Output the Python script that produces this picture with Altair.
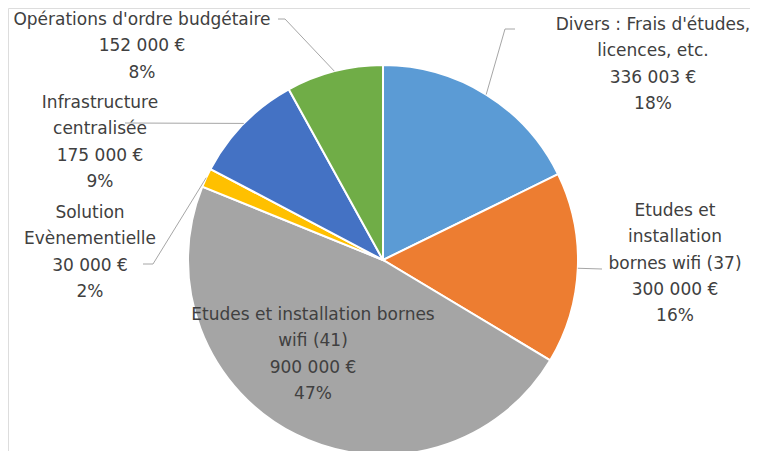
import math
import altair as alt
import pandas as pd

# ---- data ----
categories = [
    "Divers : Frais d'études, licences, etc.",
    "Etudes et installation bornes wifi (37)",
    "Etudes et installation bornes wifi (41)",
    "Solution Evènementielle",
    "Infrastructure centralisée",
    "Opérations d'ordre budgétaire",
]
values = [336003, 300000, 900000, 30000, 175000, 152000]
percents = [18, 16, 47, 2, 9, 8]
label_lines = [
    ["Divers : Frais d'études,", "licences, etc."],
    ["Etudes et", "installation", "bornes wifi (37)"],
    ["Etudes et installation bornes", "wifi (41)"],
    ["Solution", "Evènementielle"],
    ["Infrastructure", "centralisée"],
    ["Opérations d'ordre budgétaire"],
]
colors = ["#5B9BD5", "#ED7D31", "#A5A5A5", "#FFC000", "#4472C4", "#70AD47"]

# ---- layout (chart pixel space) ----
W, H = 742, 443
CX, CY, R = 375, 252, 195
LH = 26.3
label_pos = [(645, 17), (667, 203), (305, 307), (82, 205), (92, 95), (134, 12)]
# leader-line waypoints after the slice edge point (None = no leader)
leader_pts = [
    [(497, 21), (507, 21)],
    [(594, 261)],
    None,
    [(145, 256), (135, 256)],
    [(117, 115)],
    [(277, 11), (270, 11)],
]

total = sum(values)


def fmt_amount(v):
    return f"{v:,}".replace(",", " ") + " €"


pie_df = pd.DataFrame({"cat": categories, "value": values, "idx": range(len(values))})

text_rows = []
line_rows = []
cum = 0
for i, (c, v) in enumerate(zip(categories, values)):
    lines = label_lines[i] + [fmt_amount(v), f"{percents[i]}%"]
    x0, y0 = label_pos[i]
    for j, t in enumerate(lines):
        text_rows.append({"t": t, "x": x0, "y": y0 + j * LH})
    mid = (cum + v / 2) / total * 2 * math.pi
    cum += v
    if leader_pts[i]:
        pts = [(CX + R * math.sin(mid), CY - R * math.cos(mid))] + leader_pts[i]
        for k, (px, py) in enumerate(pts):
            line_rows.append({"g": i, "k": k, "x": px, "y": py})

text_df = pd.DataFrame(text_rows)
line_df = pd.DataFrame(line_rows)

xs = alt.Scale(domain=[0, W], range=[0, W])
ys = alt.Scale(domain=[0, H], range=[0, H])

pie = alt.Chart(pie_df).mark_arc(radius=R, stroke="white", strokeWidth=2).encode(
    theta=alt.Theta("value:Q", stack=True),
    order=alt.Order("idx:Q"),
    color=alt.Color("cat:N", scale=alt.Scale(domain=categories, range=colors), legend=None),
    x=alt.value(CX),
    y=alt.value(CY),
)

leaders = alt.Chart(line_df).mark_line(color="#A6A6A6", strokeWidth=1).encode(
    x=alt.X("x:Q", scale=xs, axis=None),
    y=alt.Y("y:Q", scale=ys, axis=None),
    detail="g:N",
    order="k:Q",
)

texts = alt.Chart(text_df).mark_text(
    font="DejaVu Sans", fontSize=17, color="#404040", align="center", baseline="middle"
).encode(
    x=alt.X("x:Q", scale=xs, axis=None),
    y=alt.Y("y:Q", scale=ys, axis=None),
    text="t:N",
)

chart = (
    alt.layer(pie, leaders, texts)
    .properties(width=W, height=H, padding=0, autosize=alt.AutoSizeParams(type="none"))
    .configure_view(stroke=None)
    .configure(background="white")
)

chart.save("out.html", embed_options={"renderer": "svg", "actions": False})
